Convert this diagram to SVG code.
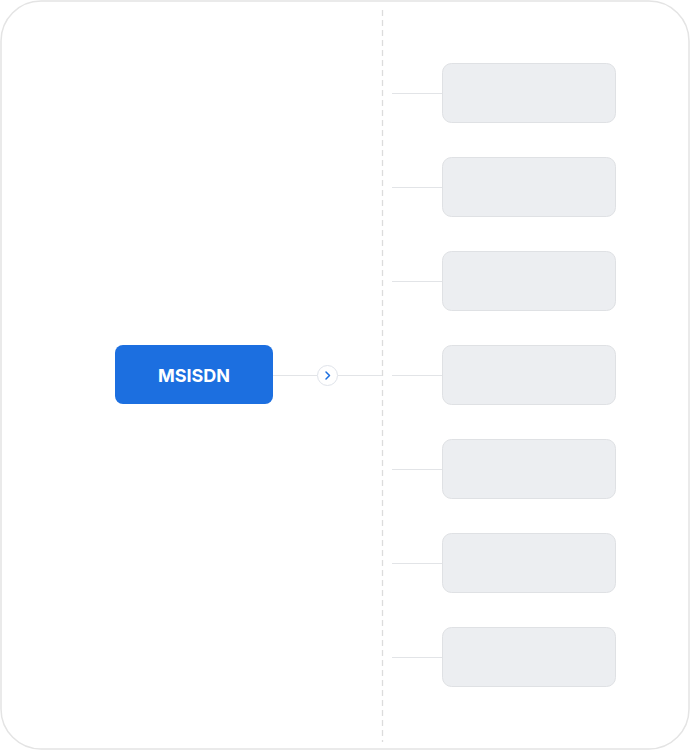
<svg xmlns="http://www.w3.org/2000/svg" width="690" height="750" viewBox="0 0 690 750">
<style>
.leaf{fill:#eceef1;stroke:#dfe1e4;stroke-width:1}
.ln{stroke:#e2e4e7;stroke-width:1;fill:none}
</style>
<rect x="1" y="1" width="688" height="748" rx="40" fill="#ffffff" stroke="#e4e4e4" stroke-width="1.5"/>
<line x1="382.5" y1="10" x2="382.5" y2="742" stroke="#dcdcdc" stroke-width="1.3" stroke-dasharray="6,4"/>
<g id="connectors">
<line class="ln" x1="273" y1="375.5" x2="317" y2="375.5"/>
<line class="ln" x1="338" y1="375.5" x2="382" y2="375.5"/>
<line class="ln" x1="392" y1="93.5" x2="442" y2="93.5"/>
<line class="ln" x1="392" y1="187.5" x2="442" y2="187.5"/>
<line class="ln" x1="392" y1="281.5" x2="442" y2="281.5"/>
<line class="ln" x1="392" y1="375.5" x2="442" y2="375.5"/>
<line class="ln" x1="392" y1="469.5" x2="442" y2="469.5"/>
<line class="ln" x1="392" y1="563.5" x2="442" y2="563.5"/>
<line class="ln" x1="392" y1="657.5" x2="442" y2="657.5"/>
</g>
<g id="toggle">
<circle cx="327.5" cy="375.5" r="10" fill="#ffffff" stroke="#dfe3ea" stroke-width="1"/>
<path d="M326 372 L329.5 375.5 L326 379" fill="none" stroke="#1c6fe0" stroke-width="1.5" stroke-linecap="round" stroke-linejoin="round"/>
</g>
<g id="root">
<rect x="115" y="345" width="158" height="59" rx="8" fill="#1c6fe0"/>
<text x="194" y="382" text-anchor="middle" font-family="Inter, 'Noto Sans', sans-serif" font-weight="700" font-size="18" fill="#ffffff">MSISDN</text>
</g>
<g id="leaf1"><rect class="leaf" x="442.5" y="63.5" width="173" height="59" rx="9"/></g>
<g id="leaf2"><rect class="leaf" x="442.5" y="157.5" width="173" height="59" rx="9"/></g>
<g id="leaf3"><rect class="leaf" x="442.5" y="251.5" width="173" height="59" rx="9"/></g>
<g id="leaf4"><rect class="leaf" x="442.5" y="345.5" width="173" height="59" rx="9"/></g>
<g id="leaf5"><rect class="leaf" x="442.5" y="439.5" width="173" height="59" rx="9"/></g>
<g id="leaf6"><rect class="leaf" x="442.5" y="533.5" width="173" height="59" rx="9"/></g>
<g id="leaf7"><rect class="leaf" x="442.5" y="627.5" width="173" height="59" rx="9"/></g>
</svg>
